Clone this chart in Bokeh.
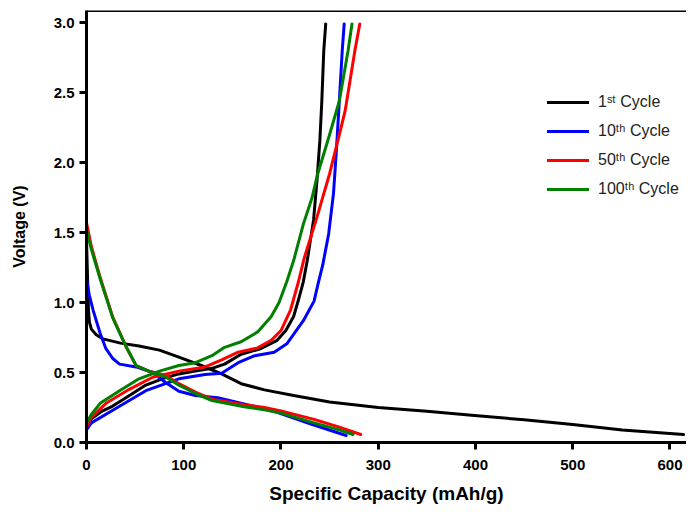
from bokeh.plotting import figure
from bokeh.models import Legend, LegendItem, FixedTicker, PrintfTickFormatter, Span, Range1d
from bokeh.embed import file_html
from bokeh.resources import INLINE

# ---------------- data ----------------
series_labels = ["1ˢᵗ Cycle", "10ᵗʰ Cycle", "50ᵗʰ Cycle", "100ᵗʰ Cycle"]
series_colors = ["#000000", "#0000FF", "#FF0000", "#008000"]

# 1st cycle
c1_dis_x = [0, 1, 2, 3, 5, 10, 17, 35, 54, 75, 95, 118, 139, 159, 183, 213, 250, 300, 350, 399, 450, 500, 551, 614]
c1_dis_y = [1.45, 1.2, 0.95, 0.86, 0.81, 0.77, 0.74, 0.71, 0.69, 0.66, 0.61, 0.55, 0.49, 0.42, 0.376, 0.336, 0.29, 0.25, 0.223, 0.193, 0.162, 0.129, 0.09, 0.057]
c1_chg_x = [0, 5, 15, 27, 45, 61, 80, 95, 112, 129, 142, 159, 179, 196, 205, 213, 218, 223, 227, 233.5, 237, 240, 242, 244, 246]
c1_chg_y = [0.11, 0.17, 0.22, 0.26, 0.34, 0.41, 0.46, 0.49, 0.51, 0.53, 0.56, 0.63, 0.67, 0.73, 0.8, 0.9, 1.02, 1.15, 1.3, 1.59, 1.87, 2.16, 2.44, 2.8, 2.99]

# 10th cycle
c10_dis_x = [0, 3, 7, 14, 20, 27, 34, 51, 68, 81, 95, 112, 135, 162, 196, 230, 267]
c10_dis_y = [1.17, 1.05, 0.94, 0.78, 0.67, 0.6, 0.56, 0.54, 0.5, 0.43, 0.366, 0.336, 0.32, 0.276, 0.216, 0.134, 0.05]
c10_chg_x = [0, 5, 27, 61, 95, 122, 139, 156, 173, 193, 206, 223, 234, 238, 243, 249, 254, 257, 260, 263, 265]
c10_chg_y = [0.09, 0.14, 0.23, 0.37, 0.455, 0.486, 0.495, 0.57, 0.62, 0.645, 0.705, 0.87, 1.01, 1.13, 1.27, 1.49, 1.78, 2.09, 2.44, 2.8, 2.99]

# 50th cycle
c50_dis_x = [0, 5, 14, 27, 41, 51, 64, 81, 95, 112, 129, 162, 183, 200, 234, 260, 282]
c50_dis_y = [1.57, 1.4, 1.18, 0.895, 0.68, 0.55, 0.51, 0.48, 0.42, 0.36, 0.31, 0.27, 0.25, 0.225, 0.165, 0.11, 0.057]
c50_chg_x = [0, 5, 20, 44, 68, 95, 122, 139, 156, 176, 190, 200, 210, 218, 224, 237, 250, 260, 266, 276, 281]
c50_chg_y = [0.11, 0.18, 0.28, 0.38, 0.466, 0.51, 0.54, 0.59, 0.645, 0.676, 0.73, 0.8, 0.95, 1.15, 1.32, 1.61, 1.92, 2.2, 2.37, 2.8, 2.99]

# 100th cycle
c100_dis_x = [0, 5, 14, 27, 41, 51, 64, 81, 95, 112, 129, 162, 183, 200, 234, 260, 274]
c100_dis_y = [1.52, 1.38, 1.17, 0.89, 0.68, 0.55, 0.51, 0.47, 0.41, 0.35, 0.3, 0.255, 0.233, 0.21, 0.14, 0.09, 0.057]
c100_chg_x = [0, 5, 14, 34, 54, 75, 95, 112, 129, 142, 159, 176, 190, 198, 206, 213, 223, 232, 237, 250, 260, 269, 273]
c100_chg_y = [0.14, 0.2, 0.28, 0.37, 0.455, 0.51, 0.55, 0.57, 0.62, 0.68, 0.72, 0.79, 0.9, 1.0, 1.15, 1.3, 1.56, 1.75, 1.9, 2.2, 2.44, 2.8, 2.99]

x_ticks = [0, 100, 200, 300, 400, 500, 600]
y_ticks = [0.0, 0.5, 1.0, 1.5, 2.0, 2.5, 3.0]
X_MAX = 617
Y_MAX = 3.086

# ---------------- figure ----------------
FONT = "Liberation Sans"
p = figure(width=686, height=506, output_backend="svg", toolbar_location=None,
           x_range=Range1d(0, X_MAX), y_range=Range1d(0, Y_MAX),
           min_border_left=86, min_border_right=0, min_border_top=10, min_border_bottom=64)
p.outline_line_color = None
p.xgrid.visible = False
p.ygrid.visible = False
p.background_fill_color = "white"
p.border_fill_color = "white"

for ax in (p.xaxis[0], p.yaxis[0]):
    ax.axis_line_width = 3
    ax.axis_line_color = "black"
    ax.major_tick_line_width = 3
    ax.major_tick_line_color = "black"
    ax.major_tick_out = 7
    ax.major_tick_in = 0
    ax.minor_tick_out = 0
    ax.minor_tick_in = 0
    ax.minor_tick_line_color = None
    ax.major_label_text_font = FONT
    ax.major_label_text_font_style = "bold"
    ax.major_label_text_font_size = "15px"
    ax.major_label_text_color = "black"
    ax.axis_label_text_font = FONT
    ax.axis_label_text_font_style = "bold"
    ax.axis_label_text_color = "black"

p.xaxis.ticker = FixedTicker(ticks=x_ticks)
p.yaxis.ticker = FixedTicker(ticks=y_ticks)
p.yaxis.formatter = PrintfTickFormatter(format="%.1f")
p.xaxis.axis_label = "Specific Capacity (mAh/g)"
p.yaxis.axis_label = "Voltage (V)"
p.xaxis.axis_label_text_font_size = "19px"
p.yaxis.axis_label_text_font_size = "16px"
p.xaxis.major_label_standoff = 10
p.yaxis.major_label_standoff = 5
p.xaxis.axis_label_standoff = 10
p.yaxis.axis_label_standoff = 23

# top frame line
p.add_layout(Span(location=Y_MAX, dimension="width", line_color="black", line_width=3))

series = [
    (c1_dis_x, c1_dis_y, c1_chg_x, c1_chg_y),
    (c10_dis_x, c10_dis_y, c10_chg_x, c10_chg_y),
    (c50_dis_x, c50_dis_y, c50_chg_x, c50_chg_y),
    (c100_dis_x, c100_dis_y, c100_chg_x, c100_chg_y),
]

items = []
for (dx, dy, cx, cy), color, label in zip(series, series_colors, series_labels):
    r1 = p.line(dx, dy, line_color=color, line_width=3, line_join="round", line_cap="round")
    r2 = p.line(cx, cy, line_color=color, line_width=3, line_join="round", line_cap="round")
    items.append(LegendItem(label=label, renderers=[r1, r2]))

legend = Legend(items=items, location=(461, 243), orientation="vertical",
                glyph_width=42, glyph_height=20, spacing=9, label_standoff=9,
                padding=0, margin=0, border_line_color=None, background_fill_alpha=0,
                label_text_font=FONT, label_text_font_size="16px", label_text_color="#222222",
                label_height=20)
p.add_layout(legend)

open("out.html", "w").write(file_html(p, INLINE))
